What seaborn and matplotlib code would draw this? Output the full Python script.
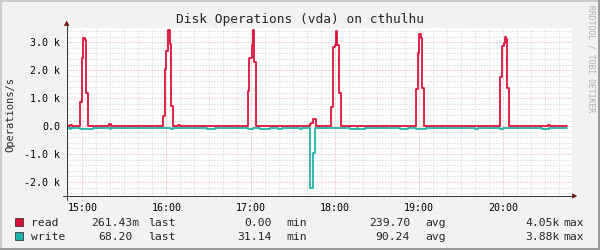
import matplotlib
matplotlib.use("Agg")
import matplotlib.pyplot as plt
import seaborn as sns
import pandas as pd
from matplotlib.ticker import FixedLocator, MultipleLocator
from matplotlib.patches import Polygon, Rectangle

# ---- data (minutes relative to 15:00, operations/s; step change points) ----
read_t = [-11.2, -9.1, -7.1, -1.7, -0.3, 0.4, 1.9, 2.6, 4.0, 19.0, 20.4,
          57.4, 59.0, 59.7, 61.1, 62.5, 63.3, 64.7, 68.3, 69.7,
          118.0, 119.2, 120.7, 121.6, 122.8, 123.7,
          162.3, 163.5, 164.6, 166.4,
          177.5, 179.2, 180.4, 181.1, 181.8, 183.2, 184.6,
          238.2, 239.2, 240.4, 241.8, 242.5, 243.9,
          298.2, 299.5, 300.7, 301.3, 302.1, 303.3, 304.7,
          332.4, 333.6, 345.6]
read_v = [5, 36, 5, 870, 2420, 3150, 3070, 1190, 5, 70, 5,
          360, 2060, 2670, 3450, 2950, 710, 5, 40, 5,
          1260, 2450, 2920, 3430, 2310, 5,
          70, 120, 270, 5,
          680, 2830, 2920, 3390, 2890, 1200, 5,
          1320, 2600, 3310, 3150, 1380, 5,
          1760, 2870, 2980, 3190, 3100, 1350, 5,
          40, 5, 5]
write_t = [-11.2, -9.1, -7.8, -1.9, 7.4, 19.5, 20.4, 63.3, 64.7, 88.6, 94.5,
           118.0, 121.6, 126.6, 133.7, 139.3, 142.8, 155.0, 157.0,
           162.4, 164.7, 166.1, 190.9, 195.9, 196.6, 201.6, 226.6, 232.4,
           238.2, 245.3, 280.0, 282.0, 298.2, 300.3, 327.8, 332.8, 345.6]
write_v = [-80, -120, -80, -110, -80, -120, -80, -120, -80, -110, -80,
           -110, -80, -110, -80, -120, -80, -120, -80,
           -2230, -970, -80, -110, -80, -120, -80, -110, -80,
           -110, -80, -120, -80, -120, -80, -110, -80, -80]

x_tick_minutes = [0, 60, 120, 180, 240, 300]
x_tick_labels = ["15:00", "16:00", "17:00", "18:00", "19:00", "20:00"]
y_tick_values = [-2000, -1000, 0, 1000, 2000, 3000]
y_tick_labels = ["-2.0 k", "-1.0 k", "0.0", "1.0 k", "2.0 k", "3.0 k"]

series_names = ["read", "write"]
series_colors = ["#DC143C", "#20B2AA"]
legend_last = ["261.43m", "68.20"]
legend_min = ["0.00", "31.14"]
legend_avg = ["239.70", "90.24"]
legend_max = ["4.05k", "3.88k"]

title = "Disk Operations (vda) on cthulhu"
y_label = "Operations/s"
watermark = "RRDTOOL / TOBI OETIKER"

# ---- style ----
sns.set_style("white")
plt.rcParams["font.family"] = ["DejaVu Sans Mono"]

W, H = 600, 250
BACK = "#F2F2F2"
fig = plt.figure(figsize=(6, 2.5), dpi=100, facecolor=BACK)

def fx(px):
    return px / W

def fy(py):
    return 1 - py / H

L, R, T, B = 66.7, 571.7, 28.3, 196.0
ax = fig.add_axes([fx(L), fy(B), (R - L) / W, (B - T) / H])
ax.set_facecolor("white")

df_read = pd.DataFrame({"t": read_t, "v": read_v})
df_write = pd.DataFrame({"t": write_t, "v": write_v})
sns.lineplot(data=df_write, x="t", y="v", ax=ax, color=series_colors[1],
             drawstyle="steps-post", lw=1.3, estimator=None, legend=False, zorder=3)
sns.lineplot(data=df_read, x="t", y="v", ax=ax, color=series_colors[0],
             drawstyle="steps-post", lw=1.3, estimator=None, legend=False, zorder=4)

ax.set_xlim(-11.2, 349.2)
ax.set_ylim(-2500, 3500)
ax.set_xlabel("")
ax.set_ylabel("")

ax.xaxis.set_major_locator(FixedLocator(x_tick_minutes))
ax.set_xticklabels(x_tick_labels)
ax.xaxis.set_minor_locator(MultipleLocator(10))
ax.yaxis.set_major_locator(FixedLocator(y_tick_values))
ax.set_yticklabels(y_tick_labels)
ax.yaxis.set_minor_locator(MultipleLocator(200))

AXC = "#3A3A3A"
ax.tick_params(which="major", direction="out", length=2.2, width=0.72, color=AXC,
               labelsize=7.2, labelcolor="black")
ax.tick_params(which="minor", direction="out", length=1.2, width=0.72, color=AXC)
ax.tick_params(axis="y", which="major", pad=2.5)
ax.tick_params(axis="x", which="major", pad=2.5)

ax.set_axisbelow(True)
ax.grid(which="minor", color="#CFCFCF", linestyle=(0, (1, 2)), lw=0.72)
ax.grid(which="major", color="#F0A0A0", linestyle=(0, (1, 2)), lw=0.72)
for s in ax.spines.values():
    s.set_visible(False)

# ---- overlay for frame, axes arrows, legend ----
ov = fig.add_axes([0, 0, 1, 1], zorder=5)
ov.set_xlim(0, W)
ov.set_ylim(H, 0)
ov.axis("off")
ov.patch.set_alpha(0)

px = 0.72
ov.plot([0, W], [1, 1], color="#CBCBCB", lw=2 * px)
ov.plot([1, 1], [0, H], color="#CBCBCB", lw=2 * px)
ov.plot([W - 1, W - 1], [0, H], color="#9B9B9B", lw=2 * px)
ov.plot([0, W], [H - 1, H - 1], color="#9B9B9B", lw=2 * px)

ARROW = "#801010"
ov.plot([L, L], [B + 4, 24], color=AXC, lw=px)
ov.plot([L - 4, R + 2], [B, B], color=AXC, lw=px)
ov.add_patch(Polygon([(L - 2.8, 25.8), (L + 2.8, 25.8), (L, 20.5)], closed=True,
                     color=ARROW, lw=0))
ov.add_patch(Polygon([(R + 0.5, B - 2.8), (R + 0.5, B + 2.8), (R + 5.5, B)], closed=True,
                     color=ARROW, lw=0))

fig.text(fx(300), fy(23.5), title, ha="center", va="baseline", fontsize=9.3)
fig.text(fx(10), fy(115), y_label, ha="center", va="center", rotation=90, fontsize=7.5)
fig.text(fx(590.5), fy(5), watermark, ha="center", va="top", rotation=270,
         fontsize=5.8, color="#AFAFAF")

LFS = 8.2
cw = 6.85
rows_y = [226.0, 239.5]
for i in range(2):
    yb = rows_y[i]
    ov.add_patch(Rectangle((15.3, yb - 7.8), 7.8, 7.8, facecolor=series_colors[i],
                           edgecolor="#222222", lw=0.5))
    fig.text(fx(30.6), fy(yb), series_names[i], ha="left", va="baseline", fontsize=LFS)
    cols = [(legend_last[i], 139.7, "last", 148.0),
            (legend_min[i], 278.5, "min", 285.9),
            (legend_avg[i], 416.8, "avg", 424.8),
            (legend_max[i], 560.0, "max", 563.7)]
    for val, xr, lab, xl in cols:
        xr_eff = xr if val[-1].isalpha() else xr - cw
        fig.text(fx(xr_eff), fy(yb), val, ha="right", va="baseline", fontsize=LFS)
        fig.text(fx(xl), fy(yb), lab, ha="left", va="baseline", fontsize=LFS)

fig.savefig("out.png", dpi=100, facecolor=BACK)
